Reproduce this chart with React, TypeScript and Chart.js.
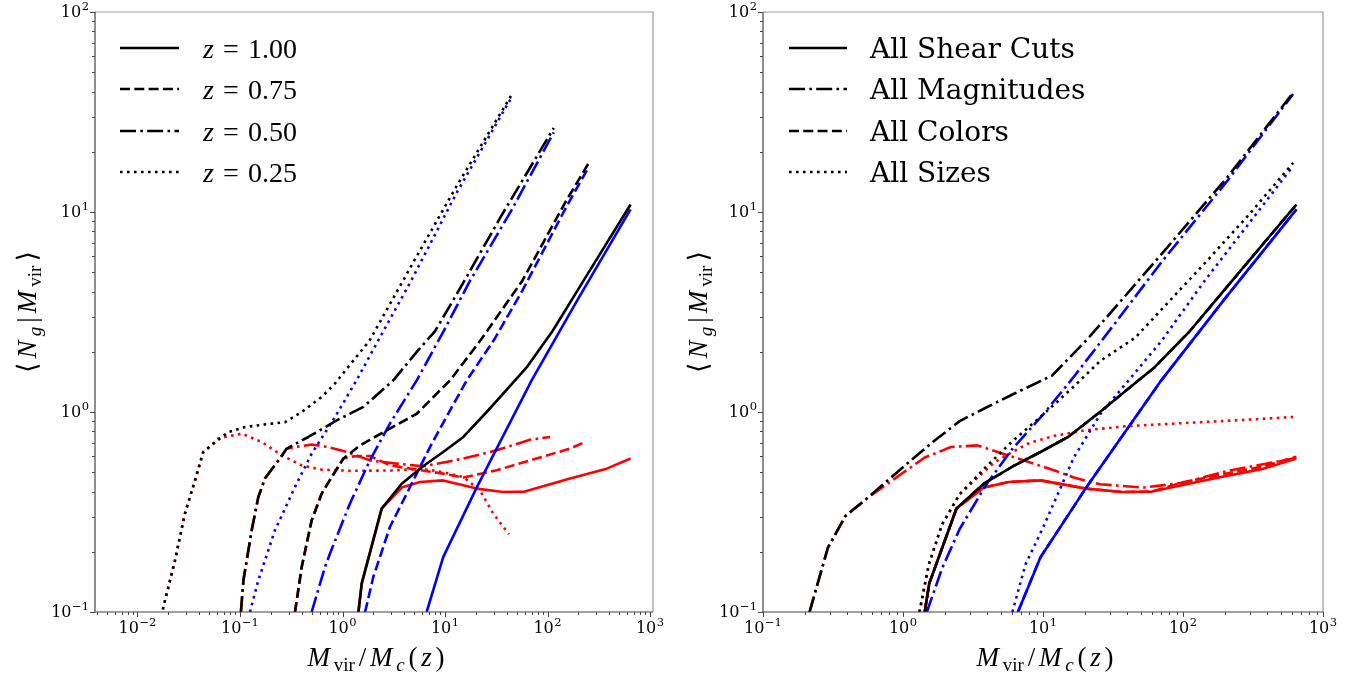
import React, { useEffect, useRef } from "react";
import { Chart, registerables } from "chart.js";
Chart.register(...registerables);

type P = [number, number];

// ---------- Left panel: satellite/central HOD at four redshifts ----------
// z = 1.00 (solid)
const z100Black: P[] = [[1.43, 0.1], [1.54, 0.139], [2.41, 0.329], [3.78, 0.438], [6.15, 0.537], [9.6, 0.631], [15.1, 0.75], [25.5, 1.0], [48.2, 1.44], [62.5, 1.67], [112, 2.54], [245, 4.88], [646, 10.9]];
const z100Blue: P[] = [[6.62, 0.1], [9.6, 0.188], [20.4, 0.42], [70, 1.44], [200, 3.7], [646, 10.3]];
const z100Red: P[] = [[1.43, 0.1], [1.54, 0.139], [2.41, 0.329], [3.78, 0.419], [5.7, 0.447], [9.6, 0.455], [20.4, 0.414], [37, 0.398], [60, 0.4], [166, 0.465], [378, 0.521], [646, 0.585]];
// z = 0.75 (dashed)
const z075Black: P[] = [[0.344, 0.1], [0.4, 0.168], [0.5, 0.287], [0.627, 0.391], [0.785, 0.473], [1.02, 0.585], [1.48, 0.681], [2.7, 0.81], [5.3, 0.98], [11.2, 1.44], [22.3, 2.29], [56.6, 4.52], [151, 11.3], [251, 17.5]];
const z075Blue: P[] = [[1.66, 0.1], [2.0, 0.15], [2.9, 0.266], [4.56, 0.422], [7.14, 0.668], [11.2, 1.02], [16.3, 1.44], [30, 2.29], [56.6, 4.03], [151, 10.5], [251, 16.7]];
const z075Red: P[] = [[0.344, 0.1], [0.4, 0.168], [0.5, 0.287], [0.627, 0.391], [0.785, 0.473], [1.02, 0.585], [1.3, 0.6], [1.85, 0.603], [2.9, 0.541], [5.3, 0.515], [9.6, 0.492], [15.1, 0.47], [31.9, 0.511], [67.4, 0.573], [166, 0.656], [223, 0.702]];
// z = 0.50 (dash-dot)
const z050Black: P[] = [[0.102, 0.1], [0.108, 0.144], [0.13, 0.256], [0.151, 0.376], [0.175, 0.465], [0.237, 0.573], [0.286, 0.656], [0.464, 0.75], [0.726, 0.857], [0.877, 0.908], [1.6, 1.06], [3.13, 1.44], [5.4, 2.02], [8, 2.54], [13, 3.88], [34.7, 9.4], [115, 26.3]];
const z050Blue: P[] = [[0.5, 0.1], [0.675, 0.168], [0.755, 0.196], [1.18, 0.348], [1.85, 0.573], [2.9, 0.875], [5.3, 1.44], [9.7, 2.54], [17.5, 4.52], [44, 10.1], [115, 25]];
const z050Red: P[] = [[0.102, 0.1], [0.108, 0.144], [0.13, 0.256], [0.151, 0.376], [0.175, 0.465], [0.237, 0.573], [0.286, 0.656], [0.344, 0.668], [0.5, 0.688], [0.726, 0.668], [1.1, 0.631], [1.85, 0.573], [3.38, 0.552], [6.15, 0.535], [15.1, 0.585], [31.9, 0.643], [67.4, 0.727], [106, 0.75]];
// z = 0.25 (dotted)
const z025Black: P[] = [[0.0172, 0.095], [0.0179, 0.106], [0.0232, 0.181], [0.029, 0.31], [0.0364, 0.455], [0.0438, 0.631], [0.055, 0.695], [0.077, 0.794], [0.112, 0.841], [0.204, 0.875], [0.275, 0.89], [0.4, 1.0], [0.627, 1.19], [0.845, 1.39], [1.84, 2.28], [4.9, 5.6], [13, 13.5], [44.4, 38.3]];
const z025Blue: P[] = [[0.125, 0.1], [0.151, 0.144], [0.219, 0.256], [0.344, 0.422], [0.5, 0.619], [0.845, 0.944], [1.37, 1.44], [2.23, 2.28], [4.66, 4.52], [13, 12.5], [44.4, 37.3]];
const z025Red: P[] = [[0.0172, 0.095], [0.0179, 0.106], [0.0232, 0.181], [0.029, 0.31], [0.0364, 0.455], [0.0438, 0.631], [0.055, 0.695], [0.061, 0.736], [0.104, 0.78], [0.163, 0.708], [0.255, 0.607], [0.4, 0.541], [0.627, 0.515], [1.18, 0.508], [3, 0.51], [6, 0.52], [9.6, 0.5], [15.1, 0.473], [21.9, 0.406], [29.6, 0.31], [42, 0.245]];

// ---------- Right panel: selection cuts ----------
const shearBlack: P[] = z100Black;
const shearBlue: P[] = z100Blue;
const shearRed: P[] = z100Red;
const magBlack: P[] = [[0.215, 0.1], [0.291, 0.21], [0.388, 0.302], [0.598, 0.388], [1.0, 0.53], [1.64, 0.71], [2.54, 0.9], [3.9, 1.05], [6.0, 1.22], [11.6, 1.52], [20.6, 2.3], [30, 3.1], [70, 6.14], [207, 14.9], [612, 39.5]];
const magBlue: P[] = [[1.48, 0.1], [1.9, 0.165], [2.54, 0.26], [3.9, 0.43], [6.0, 0.65], [10, 0.97], [16.6, 1.5], [28.5, 2.45], [70, 5.6], [207, 14.3], [612, 38.9]];
const magRed: P[] = [[0.215, 0.1], [0.291, 0.21], [0.388, 0.302], [0.598, 0.385], [1.0, 0.497], [1.43, 0.592], [2.2, 0.668], [3.39, 0.681], [4.52, 0.638], [7.5, 0.569], [12.4, 0.507], [16.6, 0.47], [25.6, 0.435], [52.6, 0.419], [100, 0.443], [207, 0.507], [612, 0.585]];
const colorBlack: P[] = z100Black;
const colorBlue: P[] = z100Blue;
const colorRed: P[] = [[1.43, 0.1], [1.54, 0.139], [2.41, 0.329], [3.78, 0.419], [5.7, 0.447], [9.6, 0.455], [20.4, 0.414], [37, 0.398], [60, 0.4], [100, 0.445], [166, 0.478], [378, 0.535], [646, 0.598]];
const sizeBlack: P[] = [[1.31, 0.1], [1.53, 0.173], [1.9, 0.274], [2.54, 0.388], [3.9, 0.53], [6.0, 0.71], [10, 0.97], [16.6, 1.34], [25.6, 1.8], [45.5, 2.35], [145, 5.6], [297, 9.73], [612, 17.6]];
const sizeBlue: P[] = [[6.04, 0.1], [7.5, 0.173], [10, 0.264], [16.6, 0.592], [25.6, 0.973], [70, 2.26], [145, 4.6], [297, 8.8], [612, 17.0]];
const sizeRed: P[] = [[1.31, 0.1], [1.53, 0.173], [1.9, 0.274], [2.54, 0.388], [3.3, 0.46], [4.5, 0.56], [6.0, 0.63], [8, 0.7], [12, 0.76], [20, 0.81], [40, 0.85], [100, 0.88], [250, 0.91], [612, 0.944]];

// ---------- Axes / labels ----------
const yTickExponents = [-1, 0, 1, 2];
const leftXTickExponents = [-2, -1, 0, 1, 2, 3];
const rightXTickExponents = [-1, 0, 1, 2, 3];
const leftXRange: [number, number] = [0.00385, 1069];
const rightXRange: [number, number] = [0.1, 1000];
const yRange: [number, number] = [0.1, 100];
const leftLegendLabels = ["1.00", "0.75", "0.50", "0.25"];
const rightLegendLabels = ["All Shear Cuts", "All Magnitudes", "All Colors", "All Sizes"];

const BLACK = "#000000";
const BLUE = "#0000ff";
const RED = "#ff0000";
const LW = 2.6;
const DASHES: Record<string, number[]> = {
  solid: [],
  dashed: [10, 4.3],
  dashdot: [16, 4.3, 2.6, 4.3],
  dotted: [2.6, 4.4],
};

type Series = { data: P[]; color: string; style: string };

const leftSeries: Series[] = [
  { data: z100Black, color: BLACK, style: "solid" },
  { data: z075Black, color: BLACK, style: "dashed" },
  { data: z050Black, color: BLACK, style: "dashdot" },
  { data: z025Black, color: BLACK, style: "dotted" },
  { data: z100Blue, color: BLUE, style: "solid" },
  { data: z075Blue, color: BLUE, style: "dashed" },
  { data: z050Blue, color: BLUE, style: "dashdot" },
  { data: z025Blue, color: BLUE, style: "dotted" },
  { data: z100Red, color: RED, style: "solid" },
  { data: z075Red, color: RED, style: "dashed" },
  { data: z050Red, color: RED, style: "dashdot" },
  { data: z025Red, color: RED, style: "dotted" },
];

const rightSeries: Series[] = [
  { data: shearBlack, color: BLACK, style: "solid" },
  { data: magBlack, color: BLACK, style: "dashdot" },
  { data: sizeBlack, color: BLACK, style: "dotted" },
  { data: shearBlue, color: BLUE, style: "solid" },
  { data: magBlue, color: BLUE, style: "dashdot" },
  { data: sizeBlue, color: BLUE, style: "dotted" },
  { data: shearRed, color: RED, style: "solid" },
  { data: magRed, color: RED, style: "dashdot" },
  { data: sizeRed, color: RED, style: "dotted" },
  { data: colorBlack, color: BLACK, style: "dashed" },
  { data: colorBlue, color: BLUE, style: "dashed" },
  { data: colorRed, color: RED, style: "dashed" },
];

type Seg = { t: string; s: number; it?: boolean; dy?: number; fam?: string };
function segFont(g: Seg) {
  return `${g.it ? "italic " : ""}${g.s}px ${g.fam || '"Liberation Serif", "DejaVu Serif", serif'}`;
}
function drawSegs(ctx: CanvasRenderingContext2D, segs: Seg[], x: number, y: number, align: "left" | "center", target?: number) {
  const ws = segs.map((g) => {
    ctx.font = segFont(g);
    return ctx.measureText(g.t).width;
  });
  const natural = ws.reduce((a, b) => a + b, 0);
  const gap = target && segs.length > 1 ? Math.max(0, (target - natural) / (segs.length - 1)) : 0;
  const total = natural + gap * (segs.length - 1);
  let cx = align === "center" ? x - total / 2 : x;
  ctx.textAlign = "left";
  ctx.textBaseline = "alphabetic";
  segs.forEach((g, i) => {
    ctx.font = segFont(g);
    ctx.fillText(g.t, cx, y + (g.dy || 0));
    cx += ws[i] + gap;
  });
}

function drawPow(ctx: CanvasRenderingContext2D, exp: number, x: number, baseline: number, align: "center" | "right") {
  const base = "10";
  const sup = exp < 0 ? "\u2212" + -exp : String(exp);
  ctx.font = '16px "DejaVu Serif"';
  const wb = ctx.measureText(base).width;
  ctx.font = '11.5px "DejaVu Serif"';
  const ws = ctx.measureText(sup).width;
  const total = wb + ws + 0.5;
  const x0 = align === "center" ? x - total / 2 : x - total;
  ctx.textAlign = "left";
  ctx.textBaseline = "alphabetic";
  ctx.fillStyle = "#000";
  ctx.font = '16px "DejaVu Serif"';
  ctx.fillText(base, x0, baseline);
  ctx.font = '11.5px "DejaVu Serif"';
  ctx.fillText(sup, x0 + wb + 0.5, baseline - 7);
}

const xTitleSegs: Seg[] = [
  { t: "M", s: 27, it: true },
  { t: "vir", s: 19, dy: 5 },
  { t: "/", s: 27 },
  { t: "M", s: 27, it: true },
  { t: "c", s: 19, it: true, dy: 5 },
  { t: "(", s: 27 },
  { t: "z", s: 27, it: true },
  { t: ")", s: 27 },
];
const yTitleSegs: Seg[] = [
  { t: "\u27E8", s: 27, fam: '"DejaVu Serif", serif' },
  { t: "N", s: 27, it: true },
  { t: "g", s: 19, it: true, dy: 5 },
  { t: "|", s: 27 },
  { t: "M", s: 27, it: true },
  { t: "vir", s: 19, dy: 5 },
  { t: "\u27E9", s: 27, fam: '"DejaVu Serif", serif' },
];

type PanelCfg = {
  xExps: number[];
  xRange: [number, number];
  legend: (ctx: CanvasRenderingContext2D, i: number, x: number, y: number) => void;
  legendStyles: string[];
  legendCount: number;
  legendLineX: [number, number];
  legendTextX: number;
  yTitleX: number;
};

const LEGEND_ROWS = [48, 89, 131, 172];

function decorPlugin(cfg: PanelCfg) {
  return {
    id: "decor",
    afterDraw(chart: any) {
      const ctx: CanvasRenderingContext2D = chart.ctx;
      const { left, right, top, bottom } = chart.chartArea;
      const xs = chart.scales.x;
      const ys = chart.scales.y;
      ctx.save();
      // spines
      ctx.lineWidth = 1.2;
      ctx.strokeStyle = "#999";
      ctx.beginPath();
      ctx.moveTo(left, top);
      ctx.lineTo(right, top);
      ctx.lineTo(right, bottom);
      ctx.stroke();
      ctx.strokeStyle = "#444";
      ctx.beginPath();
      ctx.moveTo(left, top);
      ctx.lineTo(left, bottom);
      ctx.lineTo(right, bottom);
      ctx.stroke();
      // ticks
      ctx.strokeStyle = "#444";
      ctx.lineWidth = 1;
      const [xmin, xmax] = cfg.xRange;
      for (let e = Math.floor(Math.log10(xmin)); e <= Math.ceil(Math.log10(xmax)); e++) {
        for (let m = 1; m <= 9; m++) {
          const v = m * Math.pow(10, e);
          if (v < xmin * 0.999 || v > xmax * 1.001) continue;
          const px = Math.round(xs.getPixelForValue(v)) + 0.5;
          ctx.beginPath();
          ctx.moveTo(px, bottom);
          ctx.lineTo(px, bottom + (m === 1 ? 5 : 3));
          ctx.stroke();
        }
      }
      for (let e = -1; e <= 2; e++) {
        for (let m = 1; m <= 9; m++) {
          const v = m * Math.pow(10, e);
          if (v < yRange[0] * 0.999 || v > yRange[1] * 1.001) continue;
          const py = Math.round(ys.getPixelForValue(v)) + 0.5;
          ctx.beginPath();
          ctx.moveTo(left, py);
          ctx.lineTo(left - (m === 1 ? 5 : 3), py);
          ctx.stroke();
        }
      }
      // tick labels
      cfg.xExps.forEach((e) => drawPow(ctx, e, xs.getPixelForValue(Math.pow(10, e)), bottom + 21, "center"));
      yTickExponents.forEach((e) => drawPow(ctx, e, left - 6, ys.getPixelForValue(Math.pow(10, e)) + 5, "right"));
      // axis titles
      ctx.fillStyle = "#000";
      drawSegs(ctx, xTitleSegs, (left + right) / 2 + 2, 666, "center", 137);
      ctx.save();
      ctx.translate(cfg.yTitleX, (top + bottom) / 2);
      ctx.rotate(-Math.PI / 2);
      drawSegs(ctx, yTitleSegs, 0, 0, "center", 122);
      ctx.restore();
      // legend
      for (let i = 0; i < cfg.legendCount; i++) {
        const y = LEGEND_ROWS[i];
        ctx.strokeStyle = BLACK;
        ctx.lineWidth = LW;
        ctx.lineCap = "butt";
        ctx.setLineDash(DASHES[cfg.legendStyles[i]]);
        ctx.beginPath();
        ctx.moveTo(cfg.legendLineX[0], y);
        ctx.lineTo(cfg.legendLineX[1], y);
        ctx.stroke();
        ctx.setLineDash([]);
        ctx.fillStyle = "#000";
        cfg.legend(ctx, i, cfg.legendTextX, y + 10);
      }
      ctx.restore();
    },
  };
}

function buildChart(canvas: HTMLCanvasElement, series: Series[], cfg: PanelCfg, yAxisW: number, padRight: number) {
  return new Chart(canvas, {
    type: "scatter",
    data: {
      datasets: series.map((s) => ({
        data: s.data.map(([x, y]) => ({ x, y })),
        showLine: true,
        borderColor: s.color,
        backgroundColor: s.color,
        borderWidth: LW,
        borderDash: DASHES[s.style],
        borderCapStyle: "butt",
        borderJoinStyle: "round",
        pointRadius: 0,
        tension: 0,
      })),
    },
    options: {
      responsive: false,
      animation: false,
      devicePixelRatio: 1,
      events: [],
      layout: { padding: { top: 12, right: padRight, left: 0, bottom: 0 } },
      plugins: { legend: { display: false }, tooltip: { enabled: false } },
      scales: {
        x: {
          type: "logarithmic",
          bounds: "data",
          min: cfg.xRange[0],
          max: cfg.xRange[1],
          grid: { display: false },
          border: { display: false },
          ticks: { display: false },
          afterFit: (s: any) => {
            s.height = 65;
          },
        },
        y: {
          type: "logarithmic",
          bounds: "data",
          min: yRange[0],
          max: yRange[1],
          grid: { display: false },
          border: { display: false },
          ticks: { display: false },
          afterFit: (s: any) => {
            s.width = yAxisW;
          },
        },
      },
    } as any,
    plugins: [decorPlugin(cfg)],
  });
}

const leftCfg: PanelCfg = {
  xExps: leftXTickExponents,
  xRange: leftXRange,
  legendStyles: ["solid", "dashed", "dashdot", "dotted"],
  legendCount: leftLegendLabels.length,
  legendLineX: [120, 179],
  legendTextX: 203,
  yTitleX: 36,
  legend: (ctx, i, x, y) =>
    drawSegs(ctx, [{ t: "z", s: 28, it: true }, { t: "=", s: 28 }, { t: leftLegendLabels[i], s: 28 }], x, y, "left", 94),
};

const rightCfg: PanelCfg = {
  xExps: rightXTickExponents,
  xRange: rightXRange,
  legendStyles: ["solid", "dashdot", "dashed", "dotted"],
  legendCount: rightLegendLabels.length,
  legendLineX: [789 - 683, 847 - 683],
  legendTextX: 870 - 683,
  yTitleX: 697 - 683 + 10,
  legend: (ctx, i, x, y) => {
    ctx.font = '28px "DejaVu Serif"';
    ctx.textAlign = "left";
    ctx.textBaseline = "alphabetic";
    ctx.fillText(rightLegendLabels[i], x, y);
  },
};

export default function App() {
  const leftRef = useRef<HTMLCanvasElement>(null);
  const rightRef = useRef<HTMLCanvasElement>(null);
  useEffect(() => {
    const c1 = buildChart(leftRef.current!, leftSeries, leftCfg, 95, 30);
    const c2 = buildChart(rightRef.current!, rightSeries, rightCfg, 80, 44);
    return () => {
      c1.destroy();
      c2.destroy();
    };
  }, []);
  return (
    <div style={{ position: "absolute", left: 0, top: 0, width: 1367, height: 677, background: "#fff", overflow: "hidden" }}>
      <canvas ref={leftRef} width={683} height={677} style={{ position: "absolute", left: 0, top: 0, width: 683, height: 677 }} />
      <canvas ref={rightRef} width={684} height={677} style={{ position: "absolute", left: 683, top: 0, width: 684, height: 677 }} />
    </div>
  );
}
